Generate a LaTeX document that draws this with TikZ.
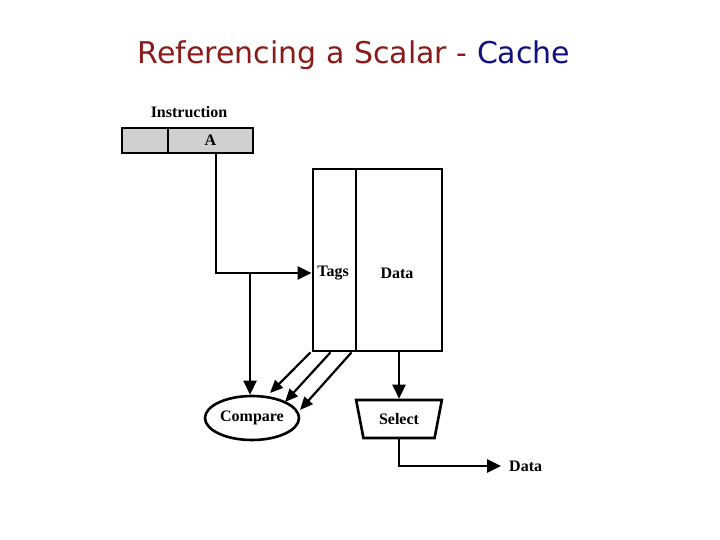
\documentclass[tikz,border=0pt]{standalone}
\usepackage{fontspec}
\setmainfont{Liberation Serif}
\newfontfamily\titlefont{DejaVu Sans}
\usetikzlibrary{arrows.meta, positioning, shapes.geometric}
\definecolor{titlered}{HTML}{8B1A1A}
\definecolor{titleblue}{HTML}{10107F}
\definecolor{cellgray}{HTML}{D0D0D0}

\begin{document}
\begin{tikzpicture}[x=1pt, y=-1pt,
    cell/.style={draw, line width=2.6pt, fill=cellgray, minimum height=25,
                 inner sep=0pt},
    col/.style={draw, line width=2.8pt, minimum height=182, inner sep=0pt},
    lbl/.style={font=\fontsize{16}{18}\selectfont\bfseries, inner sep=1pt},
    wire/.style={line width=2.6pt},
    arr/.style={wire, -{Triangle[length=14pt, width=13pt]}},
    sarr/.style={line width=2.2pt, -{Triangle[length=13pt, width=11pt]}}
  ]
    \useasboundingbox (0,0) rectangle (720,540);

    % Title
    \node[font=\titlefont\fontsize{30}{34}\selectfont] (title) at (354,55)
      {\textcolor{titlered}{Referencing a Scalar -} \textcolor{titleblue}{Cache}};

    % Instruction register
    \node[lbl] (instr) at (189,112) {Instruction};
    \node[cell, minimum width=46] (blank) at (145,140.5) {};
    \node[cell, minimum width=85] (cellA) at (210.5,140.5) {};
    \node[lbl] (alabel) at (cellA) {A};

    % Cache
    \node[col, minimum width=43] (tags) at (334.5,260) {};
    \node[col, minimum width=86] (data) at (399,260) {};
    \node[lbl] (tagslbl) at (333,273) {Tags};
    \node[lbl] (datalbl) at (397,273) {Data};

    % Compare and select
    \node[draw, ellipse, line width=2.6pt, minimum width=94, minimum height=44,
          lbl, inner sep=0pt] (cmp) at (252,418) {Compare};
    \node[draw, trapezium, shape border rotate=180, trapezium stretches=true,
          trapezium left angle=70, trapezium right angle=70,
          minimum width=86, minimum height=38, line width=2.6pt, lbl,
          inner sep=0pt] (sel) at (399,419) {Select};
    \node[lbl, anchor=west] (outlbl) at (508,466) {Data};

    % Connections
    \draw[arr] ([xshift=5.5]cellA.south) |- (tags.west |- tagslbl);
    \coordinate (split) at (250,273);
    \fill (split) circle (0.5pt);
    \draw[arr] (split) -- (split |- cmp.north);
    \foreach \dx/\ex/\ey in {-24/18/-25, -4/33/-16, 17/48/-8}
      \draw[sarr] ([xshift=\dx]tags.south) -- ([shift={(\ex,\ey)}]cmp.center);
    \draw[arr] (sel.north |- data.south) -- (sel.north);
    \draw[arr] (sel.south) |- ([xshift=-7]outlbl.west);
\end{tikzpicture}
\end{document}
